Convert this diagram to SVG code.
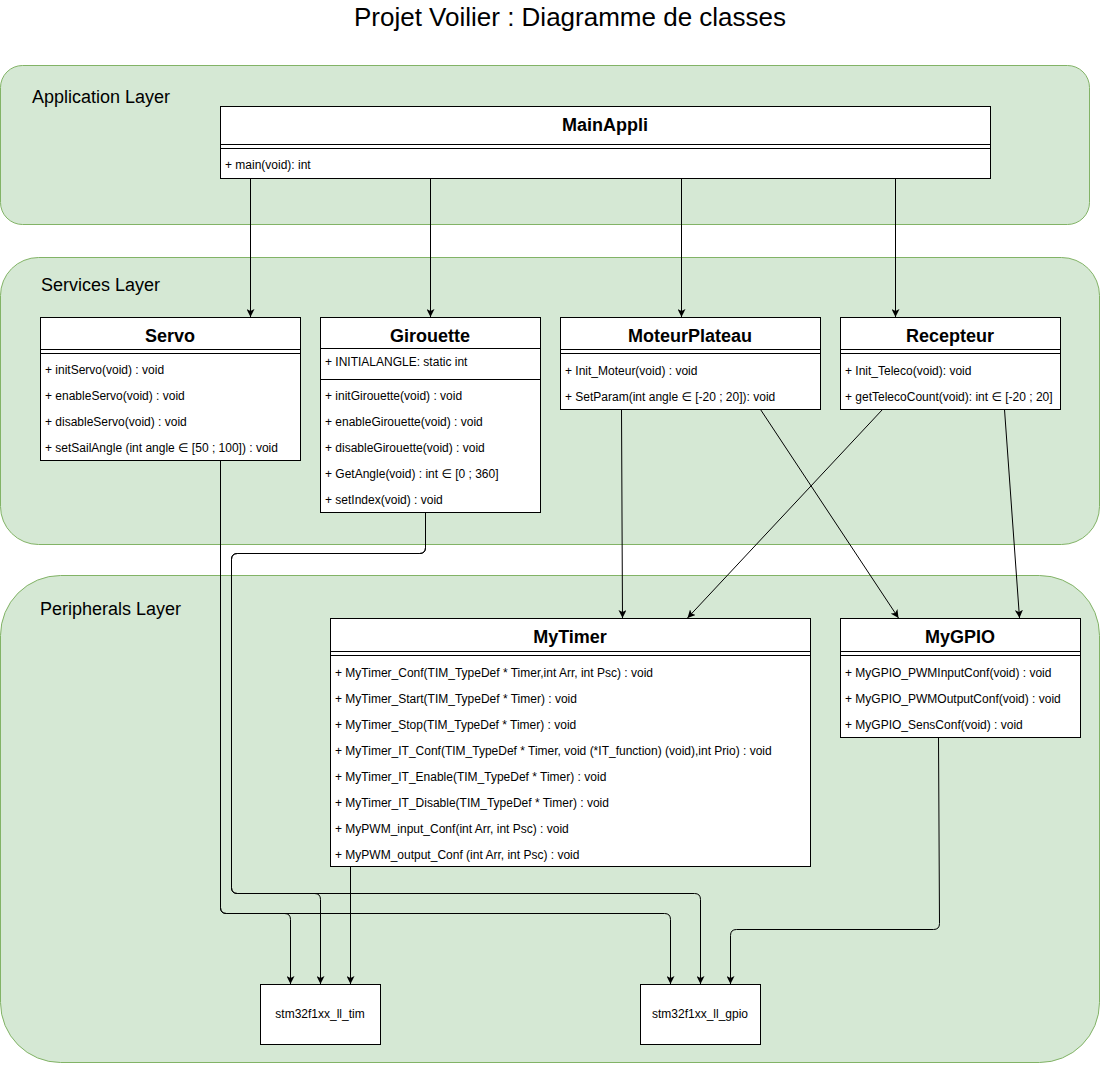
<svg xmlns="http://www.w3.org/2000/svg" width="1101" height="1066" viewBox="0 0 1101 1066">
<defs>
<style>
.layer{fill:#d5e8d4;stroke:#82b366;stroke-width:1}
.box{fill:#fff;stroke:#000;stroke-width:1}
.ln{fill:none;stroke:#000;stroke-width:1}
.hdr{font-family:'Liberation Sans',Arial,sans-serif;font-size:18px;font-weight:bold;text-anchor:middle;fill:#000}
.mem{font-family:'Liberation Sans','DejaVu Sans',Arial,sans-serif;font-size:12px;fill:#000}
.lbl{font-family:'Liberation Sans',Arial,sans-serif;font-size:18px;fill:#000}
.ttl{font-family:'Liberation Sans',Arial,sans-serif;font-size:26px;text-anchor:middle;fill:#000}
.edge{fill:none;stroke:#000;stroke-width:1;marker-end:url(#arr)}
.plain{font-family:'Liberation Sans',Arial,sans-serif;font-size:12px;text-anchor:middle;fill:#000}
</style>
<marker id="arr" markerUnits="userSpaceOnUse" markerWidth="8" markerHeight="8" refX="8" refY="4" orient="auto">
<path d="M0,0 L8,4 L0,8 L2,4 z" fill="#000"/>
</marker>
</defs>
<rect width="1101" height="1066" fill="#fff"/>
<text class="ttl" x="570" y="26">Projet Voilier : Diagramme de classes</text>

<g id="layer-application">
<rect class="layer" x="0.5" y="65.5" width="1089" height="159" rx="22"/>
<text class="lbl" x="32" y="103">Application Layer</text>
</g>
<g id="layer-services">
<rect class="layer" x="0.5" y="257.5" width="1099" height="287" rx="38"/>
<text class="lbl" x="41" y="291">Services Layer</text>
</g>
<g id="layer-peripherals">
<rect class="layer" x="0.5" y="575.5" width="1099" height="487" rx="60"/>
<text class="lbl" x="40" y="615">Peripherals Layer</text>
</g>

<g id="MainAppli">
<rect class="box" x="220.5" y="106.5" width="770" height="72"/>
<path class="ln" d="M220.5,144.5 H990.5 M220.5,148.5 H990.5"/>
<text class="hdr" x="605" y="131">MainAppli</text>
<text class="mem" x="225" y="169">+ main(void): int</text>
</g>

<g id="Servo">
<rect class="box" x="40.5" y="317.5" width="260" height="143"/>
<path class="ln" d="M40.5,349.5 H300.5 M40.5,353.5 H300.5"/>
<text class="hdr" x="170" y="342">Servo</text>
<text class="mem" x="45" y="374">+ initServo(void) : void</text>
<text class="mem" x="45" y="400">+ enableServo(void) : void</text>
<text class="mem" x="45" y="426">+ disableServo(void) : void</text>
<text class="mem" x="45" y="452">+ setSailAngle (int angle ∈ [50 ; 100]) : void</text>
</g>

<g id="Girouette">
<rect class="box" x="320.5" y="317.5" width="220" height="195"/>
<path class="ln" d="M320.5,348.5 H540.5 M320.5,379.5 H540.5"/>
<text class="hdr" x="430" y="342">Girouette</text>
<text class="mem" x="325" y="366">+ INITIALANGLE: static int</text>
<text class="mem" x="325" y="400">+ initGirouette(void) : void</text>
<text class="mem" x="325" y="426">+ enableGirouette(void) : void</text>
<text class="mem" x="325" y="452">+ disableGirouette(void) : void</text>
<text class="mem" x="325" y="478">+ GetAngle(void) : int ∈ [0 ; 360]</text>
<text class="mem" x="325" y="504">+ setIndex(void) : void</text>
</g>

<g id="MoteurPlateau">
<rect class="box" x="560.5" y="317.5" width="260" height="92"/>
<path class="ln" d="M560.5,349.5 H820.5 M560.5,353.5 H820.5"/>
<text class="hdr" x="690" y="342">MoteurPlateau</text>
<text class="mem" x="565" y="375">+ Init_Moteur(void) : void</text>
<text class="mem" x="565" y="401">+ SetParam(int angle ∈ [-20 ; 20]): void</text>
</g>

<g id="Recepteur">
<rect class="box" x="840.5" y="317.5" width="220" height="92"/>
<path class="ln" d="M840.5,349.5 H1060.5 M840.5,353.5 H1060.5"/>
<text class="hdr" x="950" y="342">Recepteur</text>
<text class="mem" x="845" y="375">+ Init_Teleco(void): void</text>
<text class="mem" x="845" y="401">+ getTelecoCount(void): int ∈ [-20 ; 20]</text>
</g>

<g id="MyTimer">
<rect class="box" x="330.5" y="618.5" width="480" height="248"/>
<path class="ln" d="M330.5,651.5 H810.5 M330.5,655.5 H810.5"/>
<text class="hdr" x="570" y="643">MyTimer</text>
<text class="mem" x="335" y="677">+ MyTimer_Conf(TIM_TypeDef * Timer,int Arr, int Psc) : void</text>
<text class="mem" x="335" y="703">+ MyTimer_Start(TIM_TypeDef * Timer) : void</text>
<text class="mem" x="335" y="729">+ MyTimer_Stop(TIM_TypeDef * Timer) : void</text>
<text class="mem" x="335" y="755">+ MyTimer_IT_Conf(TIM_TypeDef * Timer, void (*IT_function) (void),int Prio) : void</text>
<text class="mem" x="335" y="781">+ MyTimer_IT_Enable(TIM_TypeDef * Timer) : void</text>
<text class="mem" x="335" y="807">+ MyTimer_IT_Disable(TIM_TypeDef * Timer) : void</text>
<text class="mem" x="335" y="833">+ MyPWM_input_Conf(int Arr, int Psc) : void</text>
<text class="mem" x="335" y="859">+ MyPWM_output_Conf (int Arr, int Psc) : void</text>
</g>

<g id="MyGPIO">
<rect class="box" x="840.5" y="618.5" width="240" height="119"/>
<path class="ln" d="M840.5,651.5 H1080.5 M840.5,655.5 H1080.5"/>
<text class="hdr" x="960" y="643">MyGPIO</text>
<text class="mem" x="845" y="677">+ MyGPIO_PWMInputConf(void) : void</text>
<text class="mem" x="845" y="703">+ MyGPIO_PWMOutputConf(void) : void</text>
<text class="mem" x="845" y="729">+ MyGPIO_SensConf(void) : void</text>
</g>

<g id="stm32f1xx_ll_tim">
<rect class="box" x="260.5" y="984.5" width="120" height="60"/>
<text class="plain" x="320" y="1018">stm32f1xx_ll_tim</text>
</g>

<g id="stm32f1xx_ll_gpio">
<rect class="box" x="640.5" y="984.5" width="120" height="60"/>
<text class="plain" x="700" y="1018">stm32f1xx_ll_gpio</text>
</g>

<g id="connectors">
<path class="edge" d="M250.5,178.5 V317"/>
<path class="edge" d="M430.5,178.5 V317"/>
<path class="edge" d="M681.5,178.5 V317"/>
<path class="edge" d="M895.5,178.5 V317"/>
<path class="edge" d="M621.5,409.5 L622.5,618"/>
<path class="edge" d="M760.5,409.5 L898.5,618"/>
<path class="edge" d="M882.5,409.5 L687.5,618"/>
<path class="edge" d="M1004.5,409.5 L1019.5,618"/>
<path class="edge" d="M220.5,460.5 V907.5 Q220.5,913.5 226.5,913.5 H284.5 Q290.5,913.5 290.5,919.5 V984"/>
<path class="edge" d="M220.5,460.5 V907.5 Q220.5,913.5 226.5,913.5 H664.5 Q670.5,913.5 670.5,919.5 V984"/>
<path class="edge" d="M425.5,512.5 V547.5 Q425.5,553.5 419.5,553.5 H237.5 Q231.5,553.5 231.5,559.5 V887.5 Q231.5,893.5 237.5,893.5 H314.5 Q320.5,893.5 320.5,899.5 V984"/>
<path class="edge" d="M425.5,512.5 V547.5 Q425.5,553.5 419.5,553.5 H237.5 Q231.5,553.5 231.5,559.5 V887.5 Q231.5,893.5 237.5,893.5 H694.5 Q700.5,893.5 700.5,899.5 V984"/>
<path class="edge" d="M350.5,866.5 V984"/>
<path class="edge" d="M938.5,737.5 L939.5,923.5 Q939.5,929.5 933.5,929.5 H736.5 Q730.5,929.5 730.5,935.5 V984"/>
</g>
</svg>
